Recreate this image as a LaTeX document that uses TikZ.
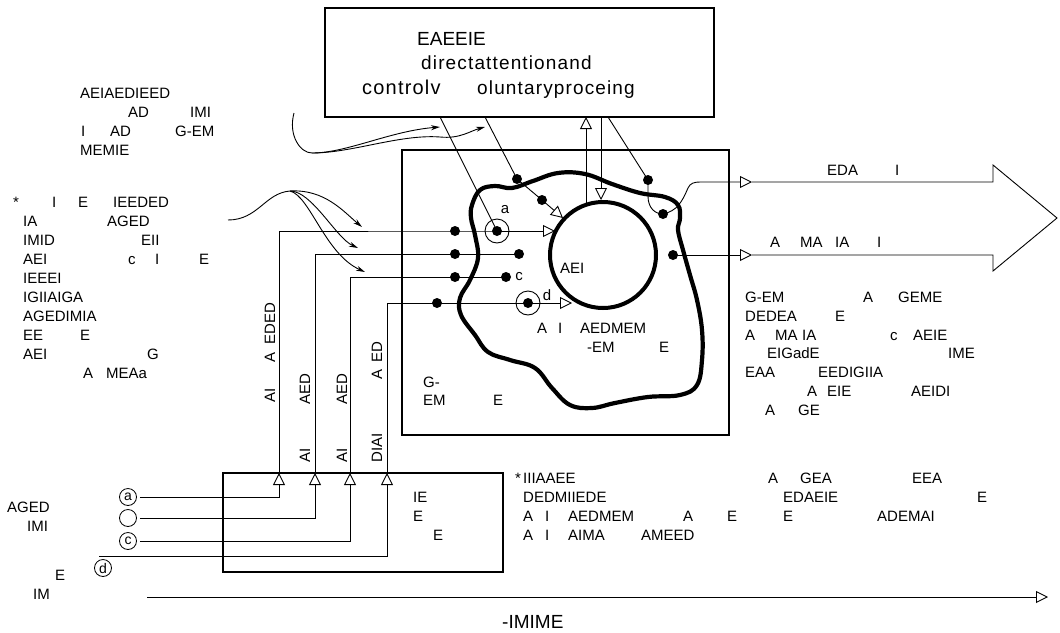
\documentclass[tikz,border=0pt]{standalone}
\usepackage{fontspec}
\setmainfont{Liberation Sans}
\newfontfamily\ctrlfont[LetterSpace=6]{Liberation Sans}
\usetikzlibrary{arrows.meta}

\begin{document}
\begin{tikzpicture}[x=1pt, y=-1pt,
      font=\fontsize{15}{18}\selectfont,
      box/.style={draw, line width=2.4pt, inner sep=0},
      ln/.style={line width=0.9pt},
      oarr/.style={ln, -{Triangle[open, length=12pt, width=12pt]}},
      curv/.style={ln, -{Stealth[length=9pt, width=5pt]}},
      dot/.style={circle, fill, inner sep=0, minimum size=10pt},
      ring/.style={circle, draw, line width=0.9pt, inner sep=0, minimum size=24pt},
      wrd/.style={anchor=base west, inner sep=0},
      vwrd/.style={wrd, rotate=90},
      tag/.style={circle, draw, line width=0.8pt, inner sep=0, minimum size=17pt,
        font=\fontsize{14}{14}\selectfont}]
    \useasboundingbox (0,0) rectangle (1060,632);

    % boxes
    \node[box, minimum width=389pt, minimum height=109pt] (ctrl) at (519.5,62.5) {};
    \node[box, minimum width=327pt, minimum height=285pt] (wm) at (565.5,292.5) {};
    \node[box, minimum width=280pt, minimum height=99pt] (sens) at (363,522.5) {};
    \node[circle, draw, line width=4pt, inner sep=0, minimum size=106pt] (core) at (603,255) {};
    \draw[line width=4.2pt] plot[smooth cycle, tension=0.65] coordinates {
      (472,205) (480,190) (495,186) (512,188) (533,181) (558,173) (585,174)
      (612,184) (640,193) (665,197) (678,205) (680,218) (678,230) (683,250)
      (690,275) (697,300) (702,330) (702,360) (697,385) (680,395) (648,397)
      (615,403) (592,408) (570,405) (552,388) (535,368) (510,360) (488,352)
      (475,335) (461,315) (460,298) (470,280) (478,258) (475,235) (471,218)};

    % texts of the control box
    \node[wrd, font=\fontsize{19}{22}\selectfont] (c1) at (417,45) {EAEEIE};
    \node[wrd, font=\ctrlfont\fontsize{19}{22}\selectfont] (c2) at (421,69) {directattentionand};
    \node[wrd, font=\ctrlfont\fontsize{20}{22}\selectfont] (c3) at (362,94) {controlv};
    \node[wrd, font=\ctrlfont\fontsize{19}{22}\selectfont] (c4) at (477,94) {oluntaryproceing};

    % coordinates and dots
    \coordinate (t1) at (440,117);
    \coordinate (t2) at (485,117);
    \coordinate (t3) at (608,117);
    \coordinate (up) at (586,117);
    \coordinate (dn) at (601,117);
    \coordinate (u0) at (586,205);
    \node[dot] (p1) at (517,179) {};
    \node[dot] (p2) at (542,200) {};
    \coordinate (p3) at (563,218);
    \node[dot] (q1) at (648,180) {};
    \node[dot] (q2) at (663,214) {};
    \node[dot] (q3) at (673,255) {};
    \node[ring] (ra) at (497,231) {};
    \node[dot] (ra0) at (ra) {};
    \node[ring] (rd) at (528,303) {};
    \node[dot] (rd0) at (rd) {};
    \node[dot] (a1) at (455,231) {};
    \node[dot] (b1) at (455,254) {};
    \node[dot] (b2) at (519,254) {};
    \node[dot] (c1d) at (455,277) {};
    \node[dot] (c2d) at (506,277) {};
    \node[dot] (d1) at (437,303) {};
    \coordinate (ta) at (555,231);
    \coordinate (td) at (572,303);
    \coordinate (sa) at (279,473);
    \coordinate (sb) at (315,473);
    \coordinate (sc) at (350,473);
    \coordinate (sd) at (387,473);
    \coordinate (o1) at (752,182);
    \coordinate (o2) at (752,255);
    \coordinate (otip) at (1057,218);

    \node (la) at (505,210) {a};
    \node (lc) at (519,277) {c};
    \node (ld) at (547,295) {d};

    % top-down links
    \draw[ln] (t1) -- (ra.center);
    \draw[ln] (t2) -- (p1.center) -- (p2.center);
    \draw[oarr] (p2.center) -- (p3);
    \draw[oarr] (u0) -- (up);
    \draw[oarr] (dn) -- (dn |- core.north);
    \draw[ln] (t3) -- (q1.center) -- ++(0,16) .. controls +(0,12) and +(-8,0) .. (q2.center);

    % outputs
    \draw[oarr] (q2.center) .. controls +(14,-3) and +(-6,14) .. ++(25,-26)
      .. controls +(2,-5) and +(-5,0) .. ++(12,-6) -- (o1);
    \draw[oarr] (q3.center) -- (o2);
    \draw[ln] (o1) -- ++(241,0) -- ++(0,-17) -- (otip) -- ++(-64,53) -- ++(0,-16) -- (o2);
    \node[wrd] (e1) at (827,175) {EDA};
    \node[wrd] (e2) at (895,175) {I};
    \foreach \x/\t [count=\i] in {770/A, 800/MA, 835/IA, 877/I}
      \node[wrd] (f\i) at (\x,247) {\t};

    % inputs from the sensory box
    \draw[oarr] (sa) |- (a1.center) -- (ta);
    \draw[ln] (sb) |- (b2.center);
    \draw[ln] (sc) |- (c2d.center);
    \draw[oarr] (sd) |- (td);

    \node[tag] (ca) at (128,497) {a};
    \node[tag] (cb) at (128,518) {};
    \node[tag] (cc) at (128,541) {c};
    \node[tag] (cd) at (103,568) {d};
    \coordinate (d0) at (99,556);
    \draw[oarr, shorten <=3pt] (ca) -| (sa);
    \draw[oarr, shorten <=3pt] (cb) -| (sb);
    \draw[oarr, shorten <=3pt] (cc) -| (sc);
    \draw[oarr] (d0) -| (sd);

    % curvy arrows
    \coordinate (lsrc) at (228,220);
    \coordinate (lfork) at (290,191);
    \coordinate (lx) at (362,227);
    \coordinate (ly) at (358,248);
    \coordinate (lz) at (365,272);
    \draw[curv] (lsrc) .. controls +(30,0) and +(-25,2) .. (lfork)
      .. controls +(35,-2) and +(-18,-15) .. (lx);
    \draw[curv] (lfork) .. controls +(22,0) and +(-22,-10) .. (ly);
    \draw[curv] (lfork) .. controls +(20,5) and +(-40,-18) .. (lz);
    \coordinate (tsrc) at (294,113);
    \coordinate (tlow) at (312,153);
    \coordinate (ux) at (440,127);
    \coordinate (uy0) at (440,137);
    \coordinate (uy) at (485,127);
    \draw[curv] (tsrc) .. controls +(-6,22) and +(-12,0) .. (tlow)
      .. controls +(35,0) and +(-50,4) .. (ux);
    \draw[curv] (tlow) .. controls +(40,0) and +(-40,-3) .. (uy0)
      .. controls +(20,2) and +(-15,4) .. (uy);

    % timeline
    \coordinate (tl0) at (147,597);
    \coordinate (tl1) at (1048,597);
    \draw[oarr] (tl0) -- (tl1);
    \node[wrd, font=\fontsize{19}{22}\selectfont] (tlab) at (502,628) {-IMIME};

    % vertical labels
    \foreach \x/\y/\t [count=\i] in {275/403/AI, 275/363/A, 275/345/EDED,
        310/405/AED, 310/463/AI, 347/405/AED, 347/463/AI,
        382/380/A, 382/363/ED, 382/463/DIAI}
      \node[vwrd] (v\i) at (\x,\y) {\t};

    % text blocks
    \foreach \x/\y/\t [count=\i] in {80/98/AEIAEDIEED, 128/117/AD, 190/117/IMI,
        81/136/I, 110/136/AD, 175/136/G-EM, 80/155/MEMIE}
      \node[wrd] (tl\i) at (\x,\y) {\t};
    \foreach \x/\y/\t [count=\i] in {13/207/*, 52/207/I, 78/207/E, 113/207/IEEDED,
        23/226/IA, 107/226/AGED, 23/245/IMID, 141/245/EII,
        23/264/AEI, 128/264/c, 155/264/I, 199/264/E,
        23/283/IEEEI, 23/302/IGIIAIGA, 23/321/AGEDIMIA,
        23/340/EE, 80/340/E, 23/359/AEI, 147/359/G, 83/378/A, 106/378/MEAa}
      \node[wrd] (l\i) at (\x,\y) {\t};
    \foreach \x/\y/\t [count=\i] in {560/273/AEI, 537/333/A, 558/333/I, 580/333/AEDMEM,
        587/352/-EM, 659/352/E, 423/387/G-, 423/405/EM, 493/405/E}
      \node[wrd] (m\i) at (\x,\y) {\t};
    \foreach \x/\y/\t [count=\i] in {745/302/G-EM, 863/302/A, 898/302/GEME,
        745/321/DEDEA, 835/321/E,
        745/340/A, 775/340/MA, 802/340/IA, 890/340/c, 913/340/AEIE,
        767/358/EIGadE, 948/358/IME, 745/377/EAA, 818/377/EEDIGIIA,
        807/396/A, 827/396/EIE, 911/396/AEIDI, 765/415/A, 798/415/GE}
      \node[wrd] (r\i) at (\x,\y) {\t};
    \foreach \x/\y/\t [count=\i] in {515/483/*, 523/483/IIIAAEE, 768/483/A, 800/483/GEA, 912/483/EEA,
        523/502/DEDMIIEDE, 783/502/EDAEIE, 977/502/E,
        523/521/A, 545/521/I, 568/521/AEDMEM, 683/521/A, 727/521/E, 783/521/E, 877/521/ADEMAI,
        523/540/A, 545/540/I, 568/540/AIMA, 641/540/AMEED}
      \node[wrd] (b\i) at (\x,\y) {\t};
    \foreach \x/\y/\t [count=\i] in {413/502/IE, 413/521/E, 433/540/E,
        7/512/AGED, 27/531/IMI, 55/580/E, 33/599/IM}
      \node[wrd] (s\i) at (\x,\y) {\t};
  \end{tikzpicture}
\end{document}
